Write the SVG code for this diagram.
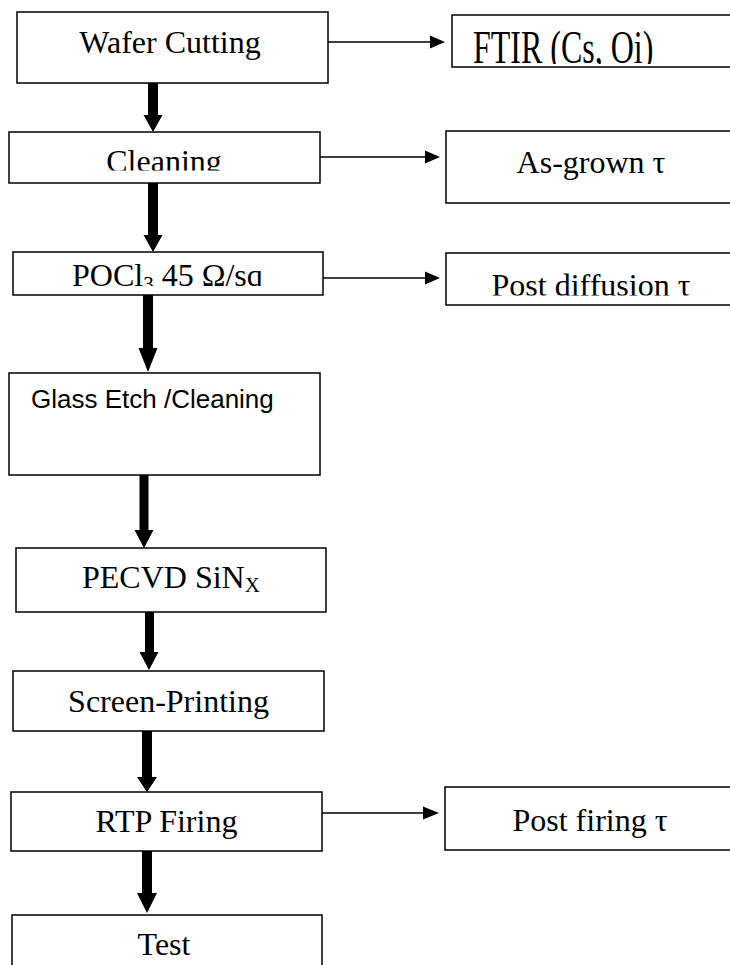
<svg xmlns="http://www.w3.org/2000/svg" width="730" height="965" viewBox="0 0 730 965">
<style>
.box{fill:#fff;stroke:#000;stroke-width:1.5}
.t{font-family:"Liberation Serif","Times New Roman",serif;font-size:32px;fill:#000}
.s{font-family:"Liberation Sans",Arial,sans-serif;font-size:26px;fill:#000}
.sub{font-size:21px}
.thin{stroke:#000;stroke-width:1.5;fill:none}
.head{fill:#000}
</style>
<defs>
<clipPath id="c2"><rect x="0" y="0" width="730" height="170.5"/></clipPath>
<clipPath id="c3"><rect x="0" y="0" width="730" height="286"/></clipPath>
<clipPath id="cF"><rect x="0" y="0" width="730" height="64"/></clipPath>
<clipPath id="cD"><rect x="0" y="0" width="730" height="295.5"/></clipPath>
</defs>
<g id="connectors">
<path class="head" d="M148,83 H158 V115 H162.5 L153,132 L143.5,115 H148 Z"/>
<path class="head" d="M148,183 H158 V235 H162.5 L153,252 L143.5,235 H148 Z"/>
<path class="head" d="M143,295 H153 V348 H157.5 L148,372 L138.5,348 H143 Z"/>
<path class="head" d="M139.5,475 H148.5 V530 H153.5 L144,548 L134.5,530 H139.5 Z"/>
<path class="head" d="M145,612 H154 V652 H158.5 L149,670 L139.5,652 H145 Z"/>
<path class="head" d="M142,731 H152 V777 H157 L147,792 L137,777 H142 Z"/>
<path class="head" d="M142,851 H152 V893 H157 L147,913 L137,893 H142 Z"/>
<line class="thin" x1="328" y1="42" x2="432" y2="42"/>
<path class="head" d="M430,35.5 L445,42 L430,48.5 Z"/>
<line class="thin" x1="320" y1="157" x2="427" y2="157"/>
<path class="head" d="M425,150.5 L440,157 L425,163.5 Z"/>
<line class="thin" x1="323" y1="278" x2="427" y2="278"/>
<path class="head" d="M425,271.5 L440,278 L425,284.5 Z"/>
<line class="thin" x1="322" y1="813" x2="425" y2="813"/>
<path class="head" d="M423,806.5 L439,813 L423,819.5 Z"/>
</g>
<g id="wafer-cutting">
<rect class="box" x="17" y="12" width="311" height="71"/>
<text class="t" x="170" y="53" text-anchor="middle">Wafer Cutting</text>
</g>
<g id="cleaning">
<rect class="box" x="9" y="132" width="311" height="51"/>
<text class="t" x="164" y="171.5" text-anchor="middle" clip-path="url(#c2)">Cleaning</text>
</g>
<g id="pocl3">
<rect class="box" x="13" y="252" width="310" height="43"/>
<text class="t" x="72" y="285.5" clip-path="url(#c3)">POCl<tspan class="sub" dy="5">3</tspan><tspan dy="-5"> 45 Ω/sq</tspan></text>
</g>
<g id="glass-etch">
<rect class="box" x="9" y="373" width="311" height="102"/>
<text class="s" x="31" y="408">Glass Etch /Cleaning</text>
</g>
<g id="pecvd">
<rect class="box" x="16" y="548" width="310" height="64"/>
<text class="t" x="82" y="588">PECVD SiN<tspan class="sub" dy="4">X</tspan></text>
</g>
<g id="screen-printing">
<rect class="box" x="13" y="671" width="311" height="60"/>
<text class="t" x="168.5" y="712" text-anchor="middle">Screen-Printing</text>
</g>
<g id="rtp-firing">
<rect class="box" x="11" y="792" width="311" height="59"/>
<text class="t" x="166.5" y="832" text-anchor="middle">RTP Firing</text>
</g>
<g id="test">
<rect class="box" x="12" y="915" width="310" height="70"/>
<text class="t" x="164" y="955" text-anchor="middle">Test</text>
</g>
<g id="ftir">
<rect class="box" x="452" y="15" width="300" height="52"/>
<g clip-path="url(#cF)">
<text class="t" transform="translate(473,63) scale(1,1.42)" x="0" y="0">FTIR (Cs, Oi)</text>
</g>
</g>
<g id="as-grown">
<rect class="box" x="446" y="131" width="300" height="72"/>
<text class="t" x="591" y="173" text-anchor="middle">As-grown τ</text>
</g>
<g id="post-diffusion">
<rect class="box" x="446" y="253" width="300" height="52"/>
<text class="t" x="591" y="296" text-anchor="middle" clip-path="url(#cD)">Post diffusion τ</text>
</g>
<g id="post-firing">
<rect class="box" x="445" y="787" width="300" height="63"/>
<text class="t" x="590" y="831" text-anchor="middle">Post firing τ</text>
</g>
</svg>
